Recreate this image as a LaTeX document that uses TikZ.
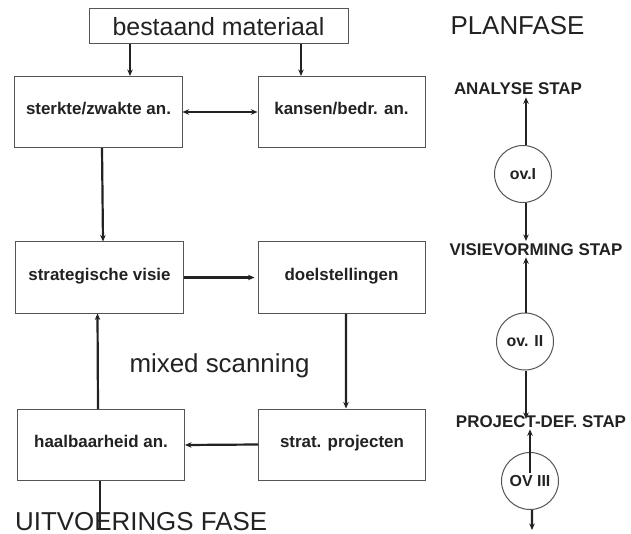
\documentclass[tikz,border=0pt]{standalone}
\usepackage{fontspec}
\setmainfont{Liberation Sans}
\usetikzlibrary{arrows.meta,calc}
\definecolor{ink}{HTML}{222222}
\definecolor{boxline}{HTML}{555555}
\begin{document}
\begin{tikzpicture}[x=1bp,y=-1bp,
  box/.style={draw=boxline,line width=1bp,minimum width=167bp,minimum height=71bp,inner sep=0pt,
    text=ink,text height=0.72em,text depth=0.2em,font=\fontsize{17}{20}\selectfont\bfseries},
  topbox/.style={draw=boxline,line width=1bp,minimum width=259bp,minimum height=35bp,inner sep=0pt,
    text=ink,font=\fontsize{25}{30}\selectfont},
  arr/.style={draw=ink,line width=2.2bp,-{Stealth[length=6.5bp,width=5.5bp]}},
  dbl/.style={draw=ink,line width=2.2bp,{Stealth[length=6.5bp,width=5.5bp]}-{Stealth[length=6.5bp,width=5.5bp]}},
  ln/.style={draw=ink,line width=2.2bp},
  circ/.style={circle,draw=boxline,line width=1bp,minimum size=57bp,inner sep=0pt,text=ink,
    font=\fontsize{16}{19}\selectfont\bfseries},
  stap/.style={inner sep=2bp,text=ink,font=\fontsize{17}{20}\selectfont\bfseries,anchor=base},
  big/.style={inner sep=0pt,text=ink,font=\fontsize{26}{31}\selectfont}
]
\useasboundingbox[fill=white] (0,0) rectangle (631,534);

% boxes
\node[topbox] (top) at (218.5,26.5) {bestaand materiaal};
\node[box] (sz) at (98.5,112) {sterkte/zwakte an.};
\node[box] (kb) at (341.5,112) {kansen/bedr. an.};
\node[box] (sv) at (99.5,277.5) {strategische visie};
\node[box] (ds) at (341.5,277.5) {doelstellingen};
\node[box] (sp) at (342,444.5) {strat. projecten};
\node[box] (hb) at (101,445) {haalbaarheid an.};

% texts
\node[big,anchor=base] (mix) at (219.5,372) {mixed scanning};
\node[big,anchor=base] (plan) at (517.5,35) {PLANFASE};

% connectors left
\draw[arr] ([xshift=31.5bp]sz.north |- top.south) -- ([xshift=31.5bp]sz.north);
\draw[arr] ([xshift=-40.5bp]kb.north |- top.south) -- ([xshift=-40.5bp]kb.north);
\draw[dbl] (sz.east) -- (kb.west);
\draw[arr] ([xshift=3.5bp]sz.south) -- ([xshift=3.5bp]sv.north);
\draw[arr] (sv.east) -- ([xshift=-3bp]ds.west);
\draw[arr] ([xshift=4.5bp]ds.south) -- ([xshift=4bp]sp.north);
\draw[arr] (sp.west) -- (hb.east);
\draw[arr] ([xshift=-3bp]hb.north) -- ([xshift=-2bp]sv.south);
\coordinate (uit) at (100,530);
\draw[ln] ([xshift=-1bp]hb.south) -- (uit);
\node[big,anchor=base west] (uf) at (15,530) {UITVOERINGS FASE};

% right column
\node[stap] (an) at (518,95) {ANALYSE STAP};
\node[stap] (vv) at (536,255) {VISIEVORMING STAP};
\node[stap] (pd) at (541,427) {PROJECT-DEF. STAP};
\node[circ] (c1) at (523,174) {ov.I};
\node[circ] (c2) at (525,341.5) {ov. II};
\node[circ] (c3) at (530,481) {OV III};

\draw[arr] ([xshift=3bp]c1.north) -- ([xshift=3bp]c1.north |- an.south);
\draw[arr] ([xshift=3bp]c1.south) -- ([xshift=3bp]c1.south |- vv.north);
\draw[arr] ([xshift=1bp]c2.north) -- ([xshift=1bp]c2.north |- vv.south);
\draw[arr] ([xshift=1bp]c2.south) -- ([xshift=1bp,yshift=-6bp]c2.south |- pd.north);
\coordinate (c3in) at (530,473);
\draw[arr] (c3in) -- (c3in |- pd.south);
\coordinate (c3out) at (532,530);
\draw[arr] ([xshift=2bp]c3.south) -- (c3out);
\end{tikzpicture}
\end{document}
